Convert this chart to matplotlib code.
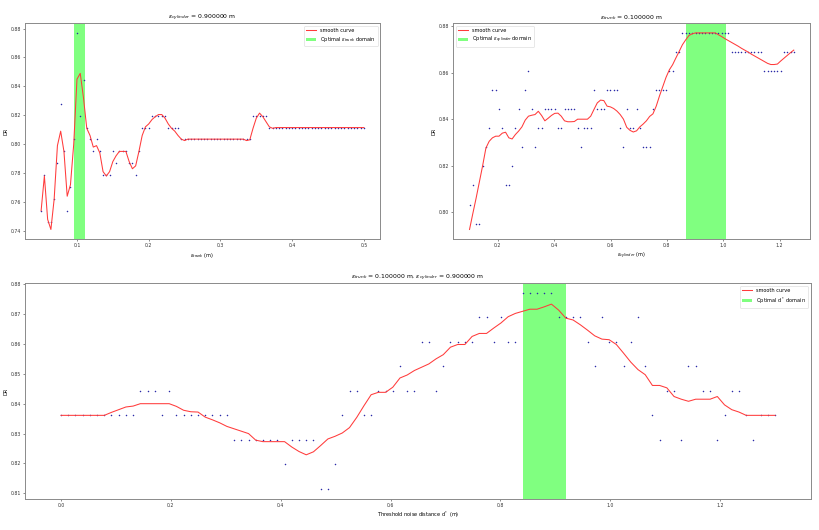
import numpy as np
import matplotlib
matplotlib.use("Agg")
import matplotlib.pyplot as plt

# ---------------- data ----------------
# top-left: DR vs eps_trunk (eps_cylinder = 0.9)
trunk_x = np.linspace(0.05, 0.5, 100)
trunk_dr = ([0.7541, 0.7787, 0.7459, 0.7459, 0.7623, 0.7869, 0.8279, 0.7951, 0.7541, 0.7705,
             0.8033, 0.8770, 0.8197, 0.8443, 0.8115, 0.8033, 0.7951, 0.8033, 0.7951, 0.7787,
             0.7787, 0.7787, 0.7951, 0.7869, 0.7951, 0.7951, 0.7951, 0.7869, 0.7869, 0.7787,
             0.7951, 0.8115, 0.8115, 0.8115, 0.8197, 0.8197, 0.8197, 0.8197, 0.8197, 0.8115,
             0.8115, 0.8115, 0.8115] + [0.8033] * 22 + [0.8197] * 5 + [0.8115] * 30)
trunk_smooth = ([0.754, 0.778, 0.748, 0.741, 0.762, 0.799, 0.809, 0.795, 0.764, 0.772,
                 0.800, 0.845, 0.849, 0.832, 0.811, 0.806, 0.798, 0.799, 0.794, 0.781,
                 0.778, 0.781, 0.788, 0.792, 0.795, 0.795, 0.795, 0.788, 0.783, 0.785,
                 0.795, 0.806, 0.812, 0.814, 0.817, 0.819, 0.8205, 0.8205, 0.818, 0.814,
                 0.811, 0.809, 0.806, 0.8035, 0.8025] + [0.8035] * 18 +
                [0.8025, 0.803, 0.811, 0.818, 0.8215, 0.819, 0.8155, 0.812, 0.811] + [0.8115] * 28)
trunk_opt = (0.0955, 0.1105)

# top-right: DR vs eps_cylinder (eps_trunk = 0.1)
cyl_x = np.linspace(0.1, 1.25, 100)
cyl_dr = ([0.8033, 0.8115, 0.7951, 0.7951, 0.8197, 0.8279, 0.8361, 0.8525, 0.8525, 0.8443,
           0.8361, 0.8115, 0.8115, 0.8197, 0.8361, 0.8443, 0.8279, 0.8525, 0.8607, 0.8443,
           0.8279, 0.8361, 0.8361, 0.8443, 0.8443, 0.8443, 0.8443, 0.8361, 0.8361, 0.8443,
           0.8443, 0.8443, 0.8443, 0.8361, 0.8279, 0.8361, 0.8361, 0.8361, 0.8525, 0.8443,
           0.8443, 0.8443, 0.8525, 0.8525, 0.8525, 0.8525, 0.8361, 0.8279, 0.8443, 0.8361,
           0.8361, 0.8443, 0.8361, 0.8279, 0.8279, 0.8279, 0.8443, 0.8525, 0.8525, 0.8525,
           0.8525, 0.8607, 0.8607, 0.8689, 0.8689] + [0.8770] * 15 + [0.8689] * 10 +
          [0.8607] * 6 + [0.8689] * 4)
cyl_smooth = ([0.7926, 0.7994, 0.806, 0.813, 0.820, 0.8276, 0.8305, 0.832, 0.8327, 0.8327,
               0.834, 0.8344, 0.832, 0.8315, 0.8334, 0.8349, 0.8367, 0.8396, 0.8413, 0.8417,
               0.842, 0.8434, 0.8416, 0.8393, 0.8404, 0.8416, 0.8425, 0.8426, 0.8413, 0.8393,
               0.8389, 0.8389, 0.839, 0.840, 0.840, 0.840, 0.840, 0.8413, 0.8442, 0.847,
               0.8482, 0.848, 0.8456, 0.8453, 0.8446, 0.8435, 0.842, 0.840, 0.8365, 0.8352,
               0.8345, 0.835, 0.8367, 0.8379, 0.8393, 0.8412, 0.8423, 0.8456, 0.850, 0.854,
               0.858, 0.8612, 0.8634, 0.8663, 0.8691, 0.872, 0.8741, 0.876, 0.8767] + [0.8771] * 7 +
              [0.8763, 0.8755, 0.8746, 0.8738, 0.873, 0.8722, 0.8714, 0.8705, 0.8697, 0.8689,
               0.868, 0.8672, 0.8664, 0.8656, 0.8648, 0.864, 0.8635, 0.8635, 0.8637, 0.865,
               0.8662, 0.8674, 0.8686, 0.8697])
cyl_opt = (0.867, 1.008)

# bottom: DR vs threshold noise distance d*
d_x = np.linspace(0.0, 1.3, 100)
d_dr = ([0.8361] * 11 + [0.8443, 0.8443, 0.8443, 0.8361, 0.8443] + [0.8361] * 8 +
        [0.8279] * 7 + [0.8197] + [0.8279] * 4 +
        [0.8115, 0.8115, 0.8197, 0.8361, 0.8443, 0.8443, 0.8361, 0.8361, 0.8443, 0.8443,
         0.8443, 0.8525, 0.8443, 0.8443, 0.8607, 0.8607, 0.8443, 0.8525, 0.8607, 0.8607,
         0.8607, 0.8607, 0.8689, 0.8689, 0.8607, 0.8689, 0.8607, 0.8607] + [0.8770] * 5 +
        [0.8689] * 4 +
        [0.8607, 0.8525, 0.8689, 0.8607, 0.8607, 0.8525, 0.8607, 0.8689, 0.8525, 0.8361,
         0.8279, 0.8443, 0.8443, 0.8279, 0.8525, 0.8525, 0.8443, 0.8443, 0.8279, 0.8361,
         0.8443, 0.8443, 0.8361, 0.8279, 0.8361, 0.8361, 0.8361])
d_smooth = ([0.8361] * 7 +
            [0.8371, 0.838, 0.8389, 0.8392, 0.840, 0.840, 0.840, 0.840, 0.840, 0.8391, 0.8378,
             0.8373, 0.8372, 0.8355, 0.8346, 0.8336, 0.8324, 0.8316, 0.8308, 0.830, 0.8278,
             0.8273, 0.8273, 0.8273, 0.8273, 0.8255, 0.824, 0.8229, 0.8239, 0.826, 0.8282,
             0.8291, 0.8302, 0.832, 0.8354, 0.8393, 0.843, 0.8438, 0.8438, 0.8455, 0.8486,
             0.8496, 0.8511, 0.8522, 0.8533, 0.855, 0.8564, 0.8589, 0.8598, 0.8598, 0.8625,
             0.8635, 0.8635, 0.8653, 0.867, 0.8691, 0.8702, 0.8709, 0.8716, 0.8716, 0.8724,
             0.8733, 0.8713, 0.8686, 0.868, 0.8664, 0.8646, 0.8627, 0.8616, 0.8614, 0.8598,
             0.8569, 0.8539, 0.8514, 0.8497, 0.8461, 0.8461, 0.8453, 0.8424, 0.8415, 0.8408,
             0.8415, 0.8415, 0.8415, 0.8424, 0.8396, 0.838, 0.8372] + [0.8361] * 5)
d_opt = (0.842, 0.920)

# ---------------- styling ----------------
TITLE_FS = 4.4
TICK_FS = 3.3
LABEL_FS = 3.6
LEG_FS = 3.6
DOT_COLOR = '#2a2aa8'
CURVE_COLOR = '#ff3b3b'
BAND_COLOR = '#80ff80'

fig = plt.figure(figsize=(8.19, 5.30), dpi=100)
ax1 = fig.add_axes([0.0305, 0.5485, 0.4335, 0.408])
ax2 = fig.add_axes([0.5535, 0.5485, 0.4355, 0.408])
ax3 = fig.add_axes([0.0309, 0.0591, 0.959, 0.4064])


def draw(ax, x, dr, smooth, opt, band_label, title, xlabel, loc):
    ax.scatter(x, dr, s=1.2, color=DOT_COLOR, linewidths=0, zorder=2)
    ax.plot(x, smooth, color=CURVE_COLOR, lw=0.75, zorder=3, label='smooth curve')
    ax.axvspan(opt[0], opt[1], color=BAND_COLOR, lw=0, zorder=1, label=band_label)
    ax.set_title(title, fontsize=TITLE_FS, pad=2.5)
    ax.set_xlabel(xlabel, fontsize=LABEL_FS, labelpad=1.5)
    ax.set_ylabel('DR', fontsize=LABEL_FS, labelpad=1.5)
    ax.tick_params(labelsize=TICK_FS, length=1.5, width=0.4, pad=1.5, colors='#333333')
    for sp in ax.spines.values():
        sp.set_color('#8a8a8a')
        sp.set_linewidth(0.7)
    leg = ax.legend(loc=loc, fontsize=LEG_FS, frameon=True, fancybox=True)
    leg.get_frame().set_linewidth(0.4)
    leg.get_frame().set_edgecolor('#cccccc')


draw(ax1, trunk_x, trunk_dr, trunk_smooth, trunk_opt,
     r'Optimal $\varepsilon_{trunk}$ domain',
     r'$\varepsilon_{cylinder}$ = 0.900000 m', r'$\varepsilon_{trunk}$ (m)', 'upper right')
ax1.set_yticks([0.74, 0.76, 0.78, 0.80, 0.82, 0.84, 0.86, 0.88])
ax1.set_xticks([0.1, 0.2, 0.3, 0.4, 0.5])

draw(ax2, cyl_x, cyl_dr, cyl_smooth, cyl_opt,
     r'Optimal $\varepsilon_{cylinder}$ domain',
     r'$\varepsilon_{trunk}$ = 0.100000 m', r'$\varepsilon_{cylinder}$ (m)', 'upper left')
ax2.set_yticks([0.80, 0.82, 0.84, 0.86, 0.88])
ax2.set_xticks([0.2, 0.4, 0.6, 0.8, 1.0, 1.2])

draw(ax3, d_x, d_dr, d_smooth, d_opt,
     r'Optimal d$^*$ domain',
     r'$\varepsilon_{trunk}$ = 0.100000 m, $\varepsilon_{cylinder}$ = 0.900000 m',
     r'Threshold noise distance d$^*$ (m)', 'upper right')
ax3.set_yticks([0.81, 0.82, 0.83, 0.84, 0.85, 0.86, 0.87, 0.88])
ax3.set_xticks([0.0, 0.2, 0.4, 0.6, 0.8, 1.0, 1.2])

fig.savefig('out.png', dpi=100)
